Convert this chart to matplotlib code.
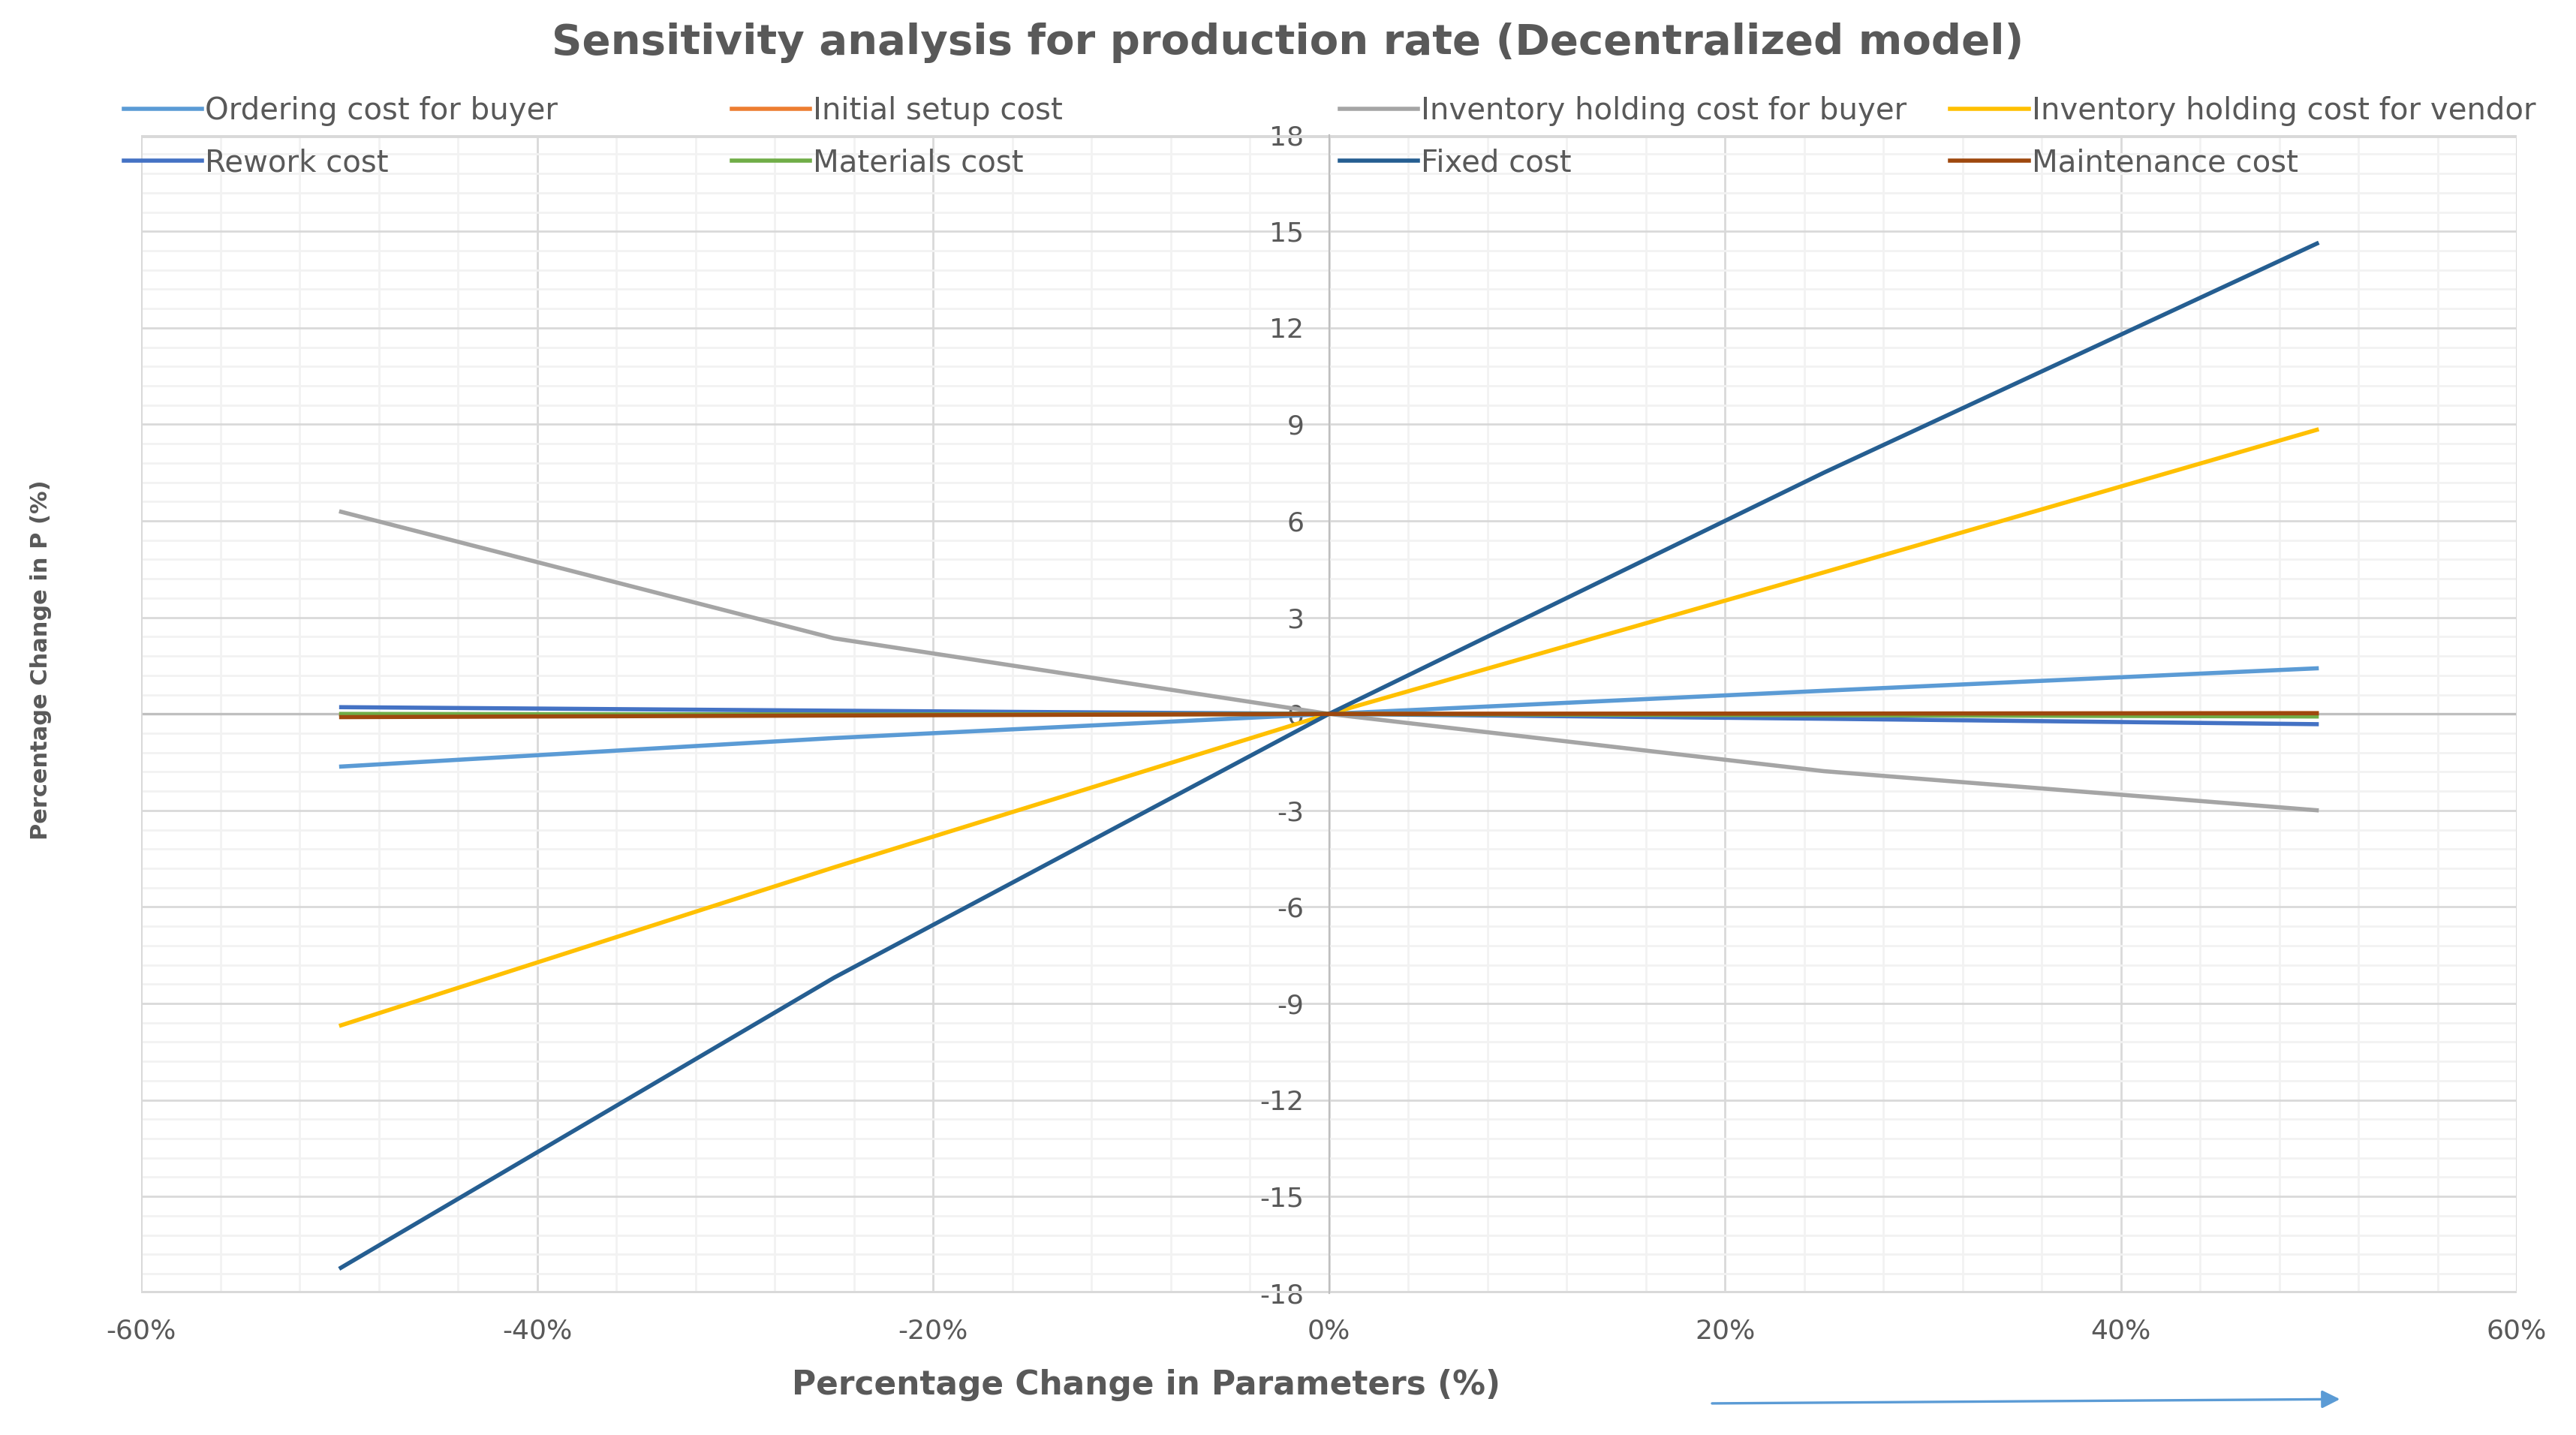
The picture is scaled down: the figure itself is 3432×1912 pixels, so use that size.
import matplotlib
matplotlib.use('Agg')
import matplotlib.pyplot as plt
from matplotlib.ticker import MultipleLocator, FuncFormatter
from matplotlib.lines import Line2D

plt.rcParams['axes.unicode_minus'] = False

# percentage change in parameters
x_pct = [-50, -25, 0, 25, 50]

names = ['Ordering cost for buyer', 'Initial setup cost',
         'Inventory holding cost for buyer', 'Inventory holding cost for vendor',
         'Rework cost', 'Materials cost', 'Fixed cost', 'Maintenance cost']
colors = ['#5B9BD5', '#ED7D31', '#A5A5A5', '#FFC000',
          '#4472C4', '#70AD47', '#255E91', '#9E480E']

ordering = [-1.64, -0.75, 0, 0.72, 1.42]
setup = [-0.02, -0.01, 0, 0.01, 0.02]
inv_buyer = [6.3, 2.35, 0, -1.78, -3.0]
inv_vendor = [-9.7, -4.77, 0, 4.4, 8.85]
rework = [0.21, 0.1, 0, -0.15, -0.32]
materials = [0.0, -0.02, 0, -0.04, -0.08]
fixed = [-17.25, -8.2, 0, 7.5, 14.65]
maintenance = [-0.1, -0.05, 0, 0.01, 0.02]

series = [ordering, setup, inv_buyer, inv_vendor, rework, materials, fixed, maintenance]

txt = '#595959'
fig = plt.figure(figsize=(17.16, 9.56), dpi=200)
ax = fig.add_axes([0.0548, 0.099, 0.9222, 0.807])

for vals, name, c in zip(series, names, colors):
    ax.plot(x_pct, vals, color=c, lw=2.0, label=name, solid_capstyle='butt', zorder=3)

ax.set_xlim(-60, 60)
ax.set_ylim(-18, 18)
ax.xaxis.set_major_locator(MultipleLocator(20))
ax.xaxis.set_minor_locator(MultipleLocator(4))
ax.yaxis.set_major_locator(MultipleLocator(3))
ax.yaxis.set_minor_locator(MultipleLocator(0.6))
ax.xaxis.set_major_formatter(FuncFormatter(lambda v, p: '{:.0f}%'.format(v)))
ax.grid(which='major', color='#D9D9D9', lw=1.0, zorder=0)
ax.grid(which='minor', color='#F2F2F2', lw=1.0, zorder=0)
ax.set_axisbelow(True)

for s in ['top', 'right', 'bottom']:
    ax.spines[s].set_visible(False)
ax.spines['left'].set_position(('data', 0))
ax.spines['left'].set_color('#BFBFBF')
ax.spines['left'].set_zorder(1)
ax.axhline(0, color='#BFBFBF', lw=1.2, zorder=1)
ax.axhline(18, color='#D9D9D9', lw=2.5, zorder=1)
ax.axhline(-18, color='#D9D9D9', lw=2.5, zorder=1)
ax.axvline(60, color='#D9D9D9', lw=1.0, zorder=1)
ax.axvline(-60, color='#D9D9D9', lw=1.0, zorder=1)

ax.tick_params(which='both', length=0, colors=txt, labelsize=13)
ax.tick_params(axis='x', pad=12)
ax.tick_params(axis='y', pad=12)

fig.text(0.5, 0.970, 'Sensitivity analysis for production rate (Decentralized model)',
         ha='center', va='center', fontsize=20.2, fontweight='bold', color=txt)
fig.text(0.445, 0.035, 'Percentage Change in Parameters (%)', ha='center', va='center',
         fontsize=15.8, fontweight='bold', color=txt)
fig.text(0.016, 0.54, 'Percentage Change in P (%)', ha='center', va='center',
         rotation=90, fontsize=11, fontweight='bold', color=txt)

# legend: four columns, two rows
col_x = [0.048, 0.284, 0.520, 0.757]
for k in range(4):
    hs = [Line2D([], [], color=colors[k], lw=2.0), Line2D([], [], color=colors[k + 4], lw=2.0)]
    lg = fig.legend(hs, [names[k], names[k + 4]], loc='upper left',
                    bbox_to_anchor=(col_x[k], 0.933), frameon=False, fontsize=14.5,
                    handlelength=2.6, handletextpad=0.1, labelspacing=0.72,
                    borderaxespad=0, borderpad=0)
    for t in lg.get_texts():
        t.set_color(txt)

ax.annotate('', xy=(0.91, 0.025), xytext=(0.663, 0.022), xycoords='figure fraction',
            arrowprops=dict(arrowstyle='-|>', color='#5B9BD5', lw=1.2, mutation_scale=18))

fig.savefig('out.png', dpi=200)
